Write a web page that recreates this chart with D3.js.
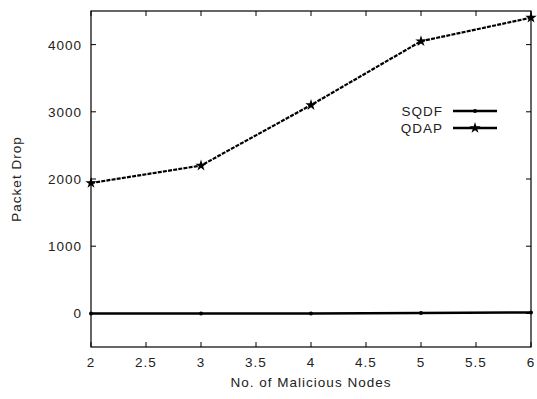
<!DOCTYPE html>
<html>
<head>
<meta charset="utf-8">
<script src="https://cdn.jsdelivr.net/npm/d3@7"></script>
<style>
  body { margin: 0; background: #fff; }
  text { font-family: "Liberation Sans", Arial, sans-serif; font-size: 13.5px; letter-spacing: 1px; fill: #222; }
</style>
</head>
<body>
<div id="plot"></div>
<script>
// Data
const nodes = [2, 3, 4, 5, 6];
const sqdf = [0, 0, 0, 5, 15];
const qdap = [1940, 2200, 3100, 4050, 4400];
const xTicks = [2, 2.5, 3, 3.5, 4, 4.5, 5, 5.5, 6];
const yTicks = [0, 1000, 2000, 3000, 4000];
const seriesNames = ["SQDF", "QDAP"];

const width = 537, height = 399;
const margin = { left: 91, right: 6, top: 11, bottom: 52 };

const svg = d3.select("#plot").append("svg")
  .attr("width", width)
  .attr("height", height);

const x = d3.scaleLinear().domain([2, 6]).range([margin.left, width - margin.right]);
const y = d3.scaleLinear().domain([-500, 4500]).range([height - margin.bottom, margin.top]);

const tick = 5;
const g = svg.append("g");

// frame
g.append("rect")
  .attr("x", x(2)).attr("y", y(4500))
  .attr("width", x(6) - x(2)).attr("height", y(-500) - y(4500))
  .attr("fill", "none").attr("stroke", "#000").attr("stroke-width", 1.2);

// x ticks, mirrored top and bottom
xTicks.forEach(t => {
  g.append("line").attr("x1", x(t)).attr("x2", x(t))
    .attr("y1", y(-500)).attr("y2", y(-500) - tick).attr("stroke", "#000");
  g.append("line").attr("x1", x(t)).attr("x2", x(t))
    .attr("y1", y(4500)).attr("y2", y(4500) + tick).attr("stroke", "#000");
  g.append("text").attr("x", x(t)).attr("y", y(-500) + 20)
    .attr("text-anchor", "middle").text(t);
});

// y ticks, mirrored left and right
yTicks.forEach(t => {
  g.append("line").attr("x1", x(2)).attr("x2", x(2) + tick)
    .attr("y1", y(t)).attr("y2", y(t)).attr("stroke", "#000");
  g.append("line").attr("x1", x(6)).attr("x2", x(6) - tick)
    .attr("y1", y(t)).attr("y2", y(t)).attr("stroke", "#000");
  g.append("text").attr("x", x(2) - 9).attr("y", y(t) + 5)
    .attr("text-anchor", "end").text(t);
});

// axis labels
svg.append("text").attr("x", (x(2) + x(6)) / 2).attr("y", 387)
  .attr("text-anchor", "middle").text("No. of Malicious Nodes");
svg.append("text")
  .attr("transform", `translate(21, ${(y(4500) + y(-500)) / 2}) rotate(-90)`)
  .attr("text-anchor", "middle").text("Packet Drop");

const line = d3.line().x((d, i) => x(nodes[i])).y(d => y(d));

// SQDF line
g.append("path").datum(sqdf).attr("d", line)
  .attr("fill", "none").attr("stroke", "#000").attr("stroke-width", 2.5);
g.selectAll(".p1").data(sqdf).enter().append("circle")
  .attr("cx", (d, i) => x(nodes[i])).attr("cy", d => y(d)).attr("r", 2);

// QDAP line
g.append("path").datum(qdap).attr("d", line)
  .attr("fill", "none").attr("stroke", "#000").attr("stroke-width", 2.2)
  .attr("stroke-dasharray", "4,1.2");
const star = d3.symbol().type(d3.symbolStar).size(40);
g.selectAll(".p2").data(qdap).enter().append("path")
  .attr("d", star)
  .attr("transform", (d, i) => `translate(${x(nodes[i])},${y(d)})`);

// legend
const legend = svg.append("g");
seriesNames.forEach((name, i) => {
  const ly = 111 + i * 17;
  legend.append("text").attr("x", 443).attr("y", ly + 5)
    .attr("text-anchor", "end").text(name);
  legend.append("line").attr("x1", 453).attr("x2", 497)
    .attr("y1", ly).attr("y2", ly)
    .attr("stroke", "#000").attr("stroke-width", 2.5);
  if (i === 0) {
    legend.append("circle").attr("cx", 475).attr("cy", ly).attr("r", 2);
  } else {
    legend.append("path").attr("d", star).attr("transform", `translate(475,${ly})`);
  }
});
</script>
</body>
</html>
